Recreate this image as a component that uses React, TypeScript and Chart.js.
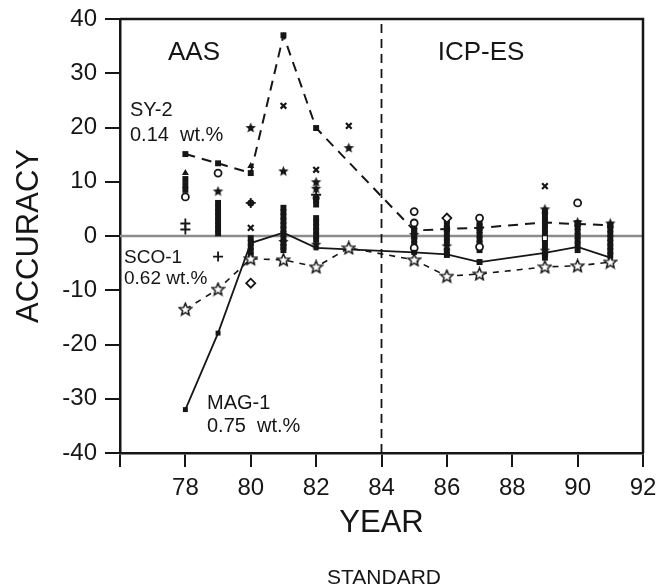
import React, { useEffect, useRef } from 'react';
import { Chart, registerables } from 'chart.js';

Chart.register(...registerables);

// ---- data ----
const xTickLabels = [78, 80, 82, 84, 86, 88, 90, 92];

const sy2Years = [78, 79, 80, 81, 82, 85, 86, 87, 89, 90, 91];
const sy2Values = [15.1, 13.4, 11.6, 37.0, 19.9, 1.0, 1.3, 1.5, 2.5, 2.2, 2.0];

const sco1Years = [78, 79, 80, 81, 82, 83, 85, 86, 87, 89, 90, 91];
const sco1Values = [-13.5, -9.8, -4.2, -4.4, -5.7, -2.2, -4.4, -7.4, -7.0, -5.7, -5.5, -4.8];

const mag1Years = [78, 79, 80, 81, 82, 85, 86, 87, 89, 90, 91];
const mag1Values = [-32.0, -17.9, -1.3, 0.6, -2.2, -3.0, -3.4, -4.8, -3.1, -2.0, -4.0];

const crossYears = [80, 81, 82, 83, 89];
const crossValues = [1.5, 24.0, 12.2, 20.3, 9.2];

const starYears = [79, 80, 81, 82, 82, 83, 85, 86, 89, 89, 90, 91, 81, 82];
const starValues = [8.3, 20.0, 12.0, 10.0, 8.8, 16.3, 0.3, -1.8, 5.0, -2.6, 2.6, 2.4, -1.0, -1.5];

const circleYears = [78, 79, 85, 85, 85, 87, 87, 90];
const circleValues = [7.2, 11.6, 4.5, 2.4, -2.2, 3.3, -2.0, 6.1];

const diamondYears = [80, 86];
const diamondValues = [-8.7, 3.3];

const plusYears = [79, 78, 78, 80, 82];
const plusValues = [-3.8, 2.3, 1.2, 6.1, 7.6];

const dotYears = [80, 82];
const dotValues = [6.1, 7.0];

const triangleYears = [78, 80];
const triangleValues = [11.6, 12.9];

const openSquareYears = [89];
const openSquareValues = [-0.4];

const stackYears = [
  78, 78, 78,
  79, 79, 79, 79, 79, 79, 79, 79,
  80, 80, 80, 80, 80,
  81, 81, 81, 81, 81, 81, 81, 81, 81, 81, 81,
  82, 82, 82, 82, 82, 82, 82, 82,
  85, 85, 85, 85, 85, 85, 85,
  86, 86, 86, 86, 86, 86, 86, 86,
  87, 87, 87, 87, 87, 87, 87, 87,
  89, 89, 89, 89, 89, 89, 89, 89, 89, 89,
  90, 90, 90, 90, 90, 90, 90,
  91, 91, 91, 91, 91, 91, 91, 91,
];
const stackValues = [
  10.5, 9.4, 8.5,
  6.1, 5.2, 4.4, 3.6, 2.8, 2.0, 1.2, 0.5,
  -0.4, -1.2, -2.0, -2.8, -3.6,
  5.2, 4.4, 3.6, 2.8, 2.0, 1.2, 0.4, -0.4, -1.2, -2.0, -2.6,
  6.6, 5.8, 3.3, 2.5, 1.7, 0.9, 0.1, -0.7,
  1.7, 0.9, 0.1, -0.7, -1.5, -2.3, -2.9,
  2.9, 2.1, 1.3, 0.5, -0.3, -1.1, -2.7, -3.5,
  2.6, 1.8, 1.0, 0.2, -0.6, -1.4, -2.6, -4.8,
  4.4, 3.6, 2.8, 2.0, 1.2, 0.4, -1.2, -2.0, -3.4, -4.0,
  2.4, 1.6, 0.8, 0.0, -0.8, -1.6, -2.6,
  2.0, 1.2, 0.4, -0.4, -1.2, -2.0, -2.8, -3.6,
];

const zeroLineYears = [76, 92];
const zeroLineValues = [0, 0];
const dividerYears = [84, 84];
const dividerValues = [-40, 40];

const pts = (xs: number[], ys: number[]) => xs.map((x, i) => ({ x, y: ys[i] }));

const INK = '#161616';
const FONT = "'Liberation Sans', Arial, Helvetica, sans-serif";

function makeStar(size: number, filled: boolean): HTMLCanvasElement {
  const c = document.createElement('canvas');
  c.width = size;
  c.height = size;
  const ctx = c.getContext('2d')!;
  const cx = size / 2;
  const cy = size / 2 + 0.5;
  const ro = size / 2 - 1;
  const ri = ro * 0.45;
  ctx.beginPath();
  for (let i = 0; i < 10; i++) {
    const r = i % 2 === 0 ? ro : ri;
    const a = -Math.PI / 2 + (i * Math.PI) / 5;
    const px = cx + r * Math.cos(a);
    const py = cy + r * Math.sin(a);
    if (i === 0) ctx.moveTo(px, py);
    else ctx.lineTo(px, py);
  }
  ctx.closePath();
  if (filled) {
    ctx.fillStyle = INK;
    ctx.fill();
  } else {
    ctx.fillStyle = '#fff';
    ctx.fill();
    ctx.lineWidth = 1.5;
    ctx.strokeStyle = INK;
    ctx.stroke();
  }
  return c;
}

const annotationPlugin = {
  id: 'annotations',
  afterDraw(chart: any) {
    const { ctx, chartArea } = chart;
    ctx.save();
    // frame: top and right borders
    ctx.strokeStyle = INK;
    ctx.lineWidth = 2.5;
    ctx.beginPath();
    ctx.moveTo(chartArea.left, chartArea.top);
    ctx.lineTo(chartArea.right, chartArea.top);
    ctx.lineTo(chartArea.right, chartArea.bottom);
    ctx.stroke();

    ctx.fillStyle = INK;
    ctx.textBaseline = 'middle';
    const txt = (s: string, x: number, y: number, size: number, align: CanvasTextAlign) => {
      ctx.font = `${size}px ${FONT}`;
      ctx.textAlign = align;
      ctx.fillText(s, x, y);
    };
    txt('AAS', 194, 53, 26, 'center');
    txt('ICP-ES', 481, 53, 26, 'center');
    txt('SY-2', 130, 110, 20, 'left');
    txt('0.14  wt.%', 130, 135, 20, 'left');
    txt('SCO-1', 124, 258, 19, 'left');
    txt('0.62 wt.%', 124, 279, 19, 'left');
    txt('MAG-1', 207, 403, 20, 'left');
    txt('0.75  wt.%', 207, 426, 20, 'left');
    txt('STANDARD', 384, 578, 21, 'center');
    ctx.restore();
  },
};

export default function App() {
  const ref = useRef<HTMLCanvasElement>(null);

  useEffect(() => {
    if (!ref.current) return;
    const openStar = makeStar(15, false);
    const filledStar = makeStar(13, true);

    const chart = new Chart(ref.current, {
      type: 'scatter',
      data: {
        datasets: [
          {
            label: 'SCO-1',
            data: pts(sco1Years, sco1Values),
            showLine: true,
            borderColor: INK,
            borderWidth: 1.6,
            borderDash: [6, 6],
            pointStyle: openStar as any,
            pointRadius: 7,
          },
          {
            label: 'SY-2',
            data: pts(sy2Years, sy2Values),
            showLine: true,
            borderColor: INK,
            borderWidth: 2,
            borderDash: [10, 7],
            pointStyle: 'rect',
            pointRadius: 4.2,
            pointBackgroundColor: INK,
            pointBorderColor: INK,
            pointBorderWidth: 0,
          },
          {
            label: 'MAG-1',
            data: pts(mag1Years, mag1Values),
            showLine: true,
            borderColor: INK,
            borderWidth: 1.8,
            pointStyle: 'rect',
            pointRadius: 3.5,
            pointBackgroundColor: INK,
            pointBorderColor: INK,
            pointBorderWidth: 0,
          },
          {
            label: 'cross',
            data: pts(crossYears, crossValues),
            pointStyle: 'crossRot',
            pointRadius: 4,
            pointBorderColor: INK,
            pointBorderWidth: 2.2,
          },
          {
            label: 'star',
            data: pts(starYears, starValues),
            pointStyle: filledStar as any,
            pointRadius: 6.5,
          },
          {
            label: 'circle',
            data: pts(circleYears, circleValues),
            pointStyle: 'circle',
            pointRadius: 3.5,
            pointBackgroundColor: '#fff',
            pointBorderColor: INK,
            pointBorderWidth: 1.8,
          },
          {
            label: 'diamond',
            data: pts(diamondYears, diamondValues),
            pointStyle: 'rectRot',
            pointRadius: 4.5,
            pointBackgroundColor: '#fff',
            pointBorderColor: INK,
            pointBorderWidth: 1.8,
          },
          {
            label: 'plus',
            data: pts(plusYears, plusValues),
            pointStyle: 'cross',
            pointRadius: 5,
            pointBorderColor: INK,
            pointBorderWidth: 1.8,
          },
          {
            label: 'dot',
            data: pts(dotYears, dotValues),
            pointStyle: 'circle',
            pointRadius: 3.5,
            pointBackgroundColor: INK,
            pointBorderColor: INK,
            pointBorderWidth: 0,
          },
          {
            label: 'triangle',
            data: pts(triangleYears, triangleValues),
            pointStyle: 'triangle',
            pointRadius: 4,
            pointBackgroundColor: INK,
            pointBorderColor: INK,
            pointBorderWidth: 0,
          },
          {
            label: 'openSquare',
            data: pts(openSquareYears, openSquareValues),
            pointStyle: 'rect',
            pointRadius: 3.5,
            pointBackgroundColor: '#fff',
            pointBorderColor: INK,
            pointBorderWidth: 1.2,
          },
          {
            label: 'stack',
            data: pts(stackYears, stackValues),
            pointStyle: 'rect',
            pointRadius: 4.2,
            pointBackgroundColor: INK,
            pointBorderColor: INK,
            pointBorderWidth: 0,
          },
          {
            label: 'divider',
            data: pts(dividerYears, dividerValues),
            showLine: true,
            borderColor: INK,
            borderWidth: 1.8,
            borderDash: [9, 6],
            pointRadius: 0,
          },
          {
            label: 'zero',
            data: pts(zeroLineYears, zeroLineValues),
            showLine: true,
            borderColor: '#8c8c8c',
            borderWidth: 2.5,
            pointRadius: 0,
          },
        ],
      },
      options: {
        animation: false,
        responsive: false,
        devicePixelRatio: 1,
        events: [],
        layout: { padding: { top: 19, right: 16, left: 0, bottom: 0 } },
        plugins: {
          legend: { display: false },
          tooltip: { enabled: false },
        },
        scales: {
          x: {
            type: 'linear',
            min: 76,
            max: 92,
            afterFit: (scale: any) => {
              scale.height = 135;
              scale.paddingLeft = 0;
              scale.paddingRight = 0;
            },
            ticks: {
              stepSize: 2,
              autoSkip: false,
              maxRotation: 0,
              padding: 7,
              color: INK,
              font: { family: FONT, size: 24 },
              callback: (v: any) => (xTickLabels.includes(Number(v)) ? String(v) : ''),
            },
            grid: {
              drawOnChartArea: false,
              drawTicks: true,
              tickLength: 14,
              color: INK,
              lineWidth: 2,
            },
            border: { display: true, color: INK, width: 2.5 },
            title: {
              display: true,
              text: 'YEAR',
              color: INK,
              font: { family: FONT, size: 31 },
              padding: { top: 0, bottom: 46 },
            },
          },
          y: {
            type: 'linear',
            min: -40,
            max: 40,
            afterFit: (scale: any) => {
              scale.width = 120;
              scale.paddingTop = 0;
              scale.paddingBottom = 0;
            },
            ticks: {
              stepSize: 10,
              padding: 8,
              color: INK,
              font: { family: FONT, size: 24 },
            },
            grid: {
              drawOnChartArea: false,
              drawTicks: true,
              tickLength: 15,
              color: INK,
              lineWidth: 2,
            },
            border: { display: true, color: INK, width: 2.5 },
            title: {
              display: true,
              text: 'ACCURACY',
              color: INK,
              font: { family: FONT, size: 31 },
              padding: { top: 11, bottom: 0 },
            },
          },
        },
      },
      plugins: [annotationPlugin],
    });

    return () => chart.destroy();
  }, []);

  return (
    <div style={{ position: 'absolute', left: 0, top: 0, width: 659, height: 588, background: '#fff' }}>
      <canvas ref={ref} width={659} height={588} style={{ display: 'block' }} />
    </div>
  );
}
